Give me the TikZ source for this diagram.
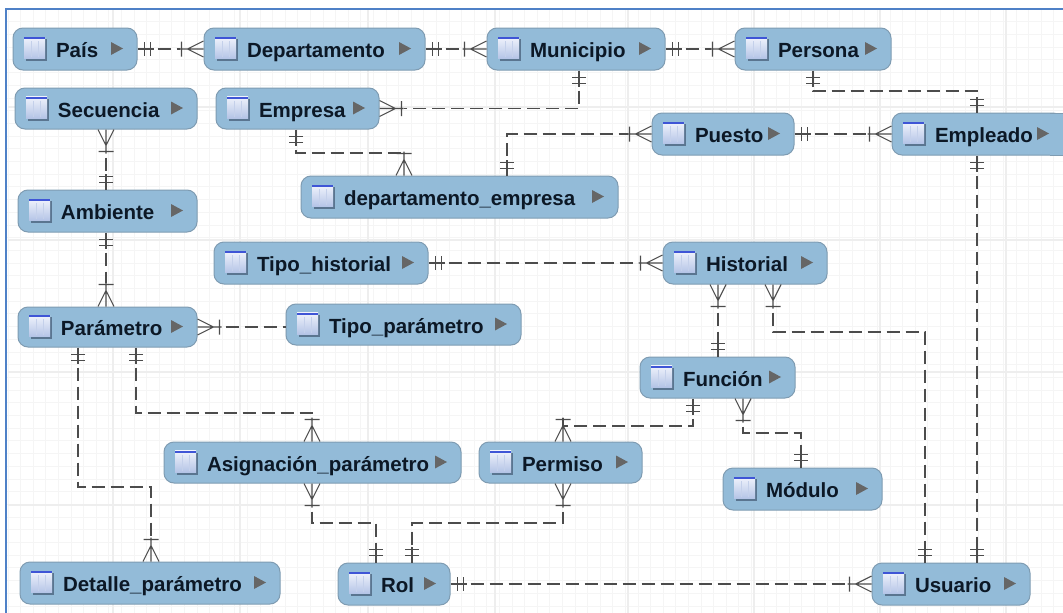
\documentclass[tikz,border=0pt]{standalone}
\usepackage{fontspec}
\setmainfont{Liberation Sans}
\usetikzlibrary{arrows.meta,calc}
\definecolor{nodefill}{HTML}{93BBD8}
\definecolor{nodeline}{HTML}{7F9CB2}
\definecolor{conn}{HTML}{4C4C4C}
\definecolor{frameblue}{HTML}{4F81C7}
\definecolor{gridminor}{HTML}{F5F5F5}
\definecolor{gridmajor}{HTML}{EEEEEE}
\definecolor{txt}{HTML}{0C1826}
\definecolor{iconshadow}{HTML}{5A7590}
\definecolor{icontop}{HTML}{F0F3FC}
\definecolor{iconbot}{HTML}{B4C4E6}
\definecolor{iconcol}{HTML}{C4D0EA}
\definecolor{iconbar}{HTML}{3F55D6}
\pgfdeclarearrow{name=ERone,
 setup code={\pgfarrowssettipend{0pt}\pgfarrowssetlineend{-16pt}\pgfarrowssetbackend{-16pt}\pgfarrowssetvisualbackend{-16pt}},
 drawing code={\pgfsetdash{}{0pt}
  \pgfpathmoveto{\pgfqpoint{0pt}{0pt}}\pgfpathlineto{\pgfqpoint{-16pt}{0pt}}
  \pgfpathmoveto{\pgfqpoint{-7pt}{-7pt}}\pgfpathlineto{\pgfqpoint{-7pt}{7pt}}
  \pgfpathmoveto{\pgfqpoint{-13pt}{-7pt}}\pgfpathlineto{\pgfqpoint{-13pt}{7pt}}
  \pgfusepathqstroke},
 defaults={}}
\pgfdeclarearrow{name=ERmany,
 setup code={\pgfarrowssettipend{0pt}\pgfarrowssetlineend{-24pt}\pgfarrowssetbackend{-24pt}\pgfarrowssetvisualbackend{-24pt}},
 drawing code={\pgfsetdash{}{0pt}
  \pgfpathmoveto{\pgfqpoint{0pt}{0pt}}\pgfpathlineto{\pgfqpoint{-24pt}{0pt}}
  \pgfpathmoveto{\pgfqpoint{0pt}{-8pt}}\pgfpathlineto{\pgfqpoint{-16pt}{0pt}}\pgfpathlineto{\pgfqpoint{0pt}{8pt}}
  \pgfpathmoveto{\pgfqpoint{-22pt}{-7.5pt}}\pgfpathlineto{\pgfqpoint{-22pt}{7.5pt}}
  \pgfusepathqstroke},
 defaults={}}
\tikzset{
 entity/.style={draw=nodeline,fill=nodefill,line width=1pt,rounded corners=10pt,inner sep=0pt,
  align=left,text height=17pt,text depth=0pt,text=txt,font=\fontsize{20.5pt}{22pt}\selectfont\bfseries},
 rel/.style={draw=conn,line width=1.1pt,dash pattern=on 13pt off 6pt,dash phase=15pt},
 oneone/.style={rel,{ERone}-{ERone}},
 onemany/.style={rel,{ERone}-{ERmany}},
 manyone/.style={rel,{ERmany}-{ERone}},
 manyplain/.style={rel,{ERmany}-}
}
\newcommand\ent[6]{%
 \pgfmathsetmacro\nw{#3-#2}\pgfmathsetmacro\nh{#5-#4}%
 \pgfmathsetmacro\cx{(#2+#3)/2}\pgfmathsetmacro\cy{(#4+#5)/2-0.5}%
 \node[entity,minimum width=\nw pt,minimum height=\nh pt,text width=\nw pt] (#1) at (\cx,{(#4+#5)/2}) {\hspace*{43pt}#6};
 \pgfmathsetmacro\ia{#2+11}\pgfmathsetmacro\ib{#2+33}%
 \pgfmathsetmacro\ja{\cy-11.5}\pgfmathsetmacro\jb{\cy+11.5}%
 \fill[iconshadow] (\ia+1.5,\ja+2) rectangle (\ib+1,\jb+1);
 \shade[top color=icontop,bottom color=iconbot] (\ia,\ja) rectangle (\ib-1,\jb-1.5);
 \fill[iconbar] (\ia,\ja) rectangle (\ib-1,\ja+2);
 \draw[iconcol,line width=.6pt] (\ia+7,\ja+4) -- (\ia+7,\jb-3) (\ia+14,\ja+4) -- (\ia+14,\jb-3);
 \fill[black!60] (#3-26,\cy-6.5) -- (#3-14,\cy) -- (#3-26,\cy+6.5) -- cycle;
}
\begin{document}
\begin{tikzpicture}[x=1pt,y=-1pt]
\useasboundingbox (0,0) rectangle (1063,613);
\fill[white] (0,0) rectangle (1063,613);
\begin{scope}
\clip (6,9) rectangle (1063,613);
\foreach \k in {0,...,85}{\draw[gridminor,line width=.7pt] (8+12.6*\k,9) -- (8+12.6*\k,613);}
\foreach \k in {0,...,48}{\draw[gridminor,line width=.7pt] (6,9+12.7*\k) -- (1063,9+12.7*\k);}
\foreach \k in {113,240,368,495,628,754,880,1006}{\draw[gridmajor,line width=1.2pt] (\k,9) -- (\k,613);}
\foreach \k in {107,240,372,505}{\draw[gridmajor,line width=1.2pt] (8,\k) -- (1063,\k);}
\end{scope}
\draw[frameblue,line width=2pt] (6,613) -- (6,9) -- (1063,9);
\ent{pais}{13}{137}{28}{70}{País}
\ent{dep}{204}{425}{28}{70}{Departamento}
\ent{mun}{487}{665}{28}{70}{Municipio}
\ent{per}{735}{891}{28}{70}{Persona}
\ent{sec}{15}{197}{88}{129}{Secuencia}
\ent{emp}{216}{379}{88}{129}{Empresa}
\ent{depemp}{301}{618}{176}{218}{departamento\_empresa}
\ent{pue}{652}{794}{113}{155}{Puesto}
\ent{emple}{892}{1063}{113}{155}{Empleado}
\fill[nodefill] (1050,113.5) rectangle (1063,154.5);
\draw[nodeline,line width=1pt] (1050,113) -- (1063,113) (1050,155) -- (1063,155);
\ent{amb}{18}{197}{190}{232}{Ambiente}
\ent{tiph}{214}{428}{242}{284}{Tipo\_historial}
\ent{his}{663}{827}{242}{284}{Historial}
\ent{par}{18}{197}{307}{347}{Parámetro}
\ent{tipp}{286}{521}{304}{345}{Tipo\_parámetro}
\ent{fun}{640}{795}{357}{398}{Función}
\ent{asi}{164}{461}{442}{483}{Asignación\_parámetro}
\ent{perm}{479}{642}{442}{483}{Permiso}
\ent{mod}{723}{882}{468}{510}{Módulo}
\ent{det}{20}{280}{562}{604}{Detalle\_parámetro}
\ent{rol}{338}{450}{563}{605}{Rol}
\ent{usu}{872}{1030}{563}{605}{Usuario}
% horizontal
\draw[onemany] (pais.east) -- (dep.west);
\draw[onemany] (dep.east) -- (mun.west);
\draw[onemany] (mun.east) -- (per.west);
\draw[onemany] (pue.east) -- (emple.west);
\draw[onemany] (tiph.east) -- (his.west);
\draw[manyplain] (par.east) -- (par.east -| tipp.west);
\draw[onemany] (rol.east) -- (usu.west);
% straight vertical
\draw[manyone] (sec.south -| 106,0) -- (amb.north -| 106,0);
\draw[onemany] (amb.south -| 106,0) -- (par.north -| 106,0);
\draw[oneone] (emple.south -| 977,0) -- (usu.north -| 977,0);
\draw[manyone] (his.south -| 718,0) -- (fun.north -| 718,0);
% elbows
\draw[oneone] (per.south -| 813,0) -- (813,91) -- (977,91) -- (emple.north -| 977,0);
\draw[onemany] (mun.south -| 579,0) |- (emp.east);
\draw[onemany] (emp.south -| 296,0) -- (296,153) -- (404,153) -- (depemp.north -| 404,0);
\draw[onemany] (depemp.north -| 507,0) |- (pue.west);
\draw[onemany] (par.south -| 78,0) -- (78,487) -- (151,487) -- (det.north -| 151,0);
\draw[onemany] (par.south -| 136,0) -- (136,413) -- (312,413) -- (asi.north -| 312,0);
\draw[manyone] (his.south -| 773,0) -- (773,332) -- (925,332) -- (usu.north -| 925,0);
\draw[onemany] (fun.south -| 693,0) -- (693,426) -- (563,426) -- (perm.north -| 563,0);
\draw[manyone] (fun.south -| 743,0) -- (743,433) -- (801,433) -- (mod.north -| 801,0);
\draw[manyone] (asi.south -| 312,0) -- (312,523) -- (376,523) -- (rol.north -| 376,0);
\draw[manyone] (perm.south -| 563,0) -- (563,523) -- (412,523) -- (rol.north -| 412,0);
\end{tikzpicture}
\end{document}
